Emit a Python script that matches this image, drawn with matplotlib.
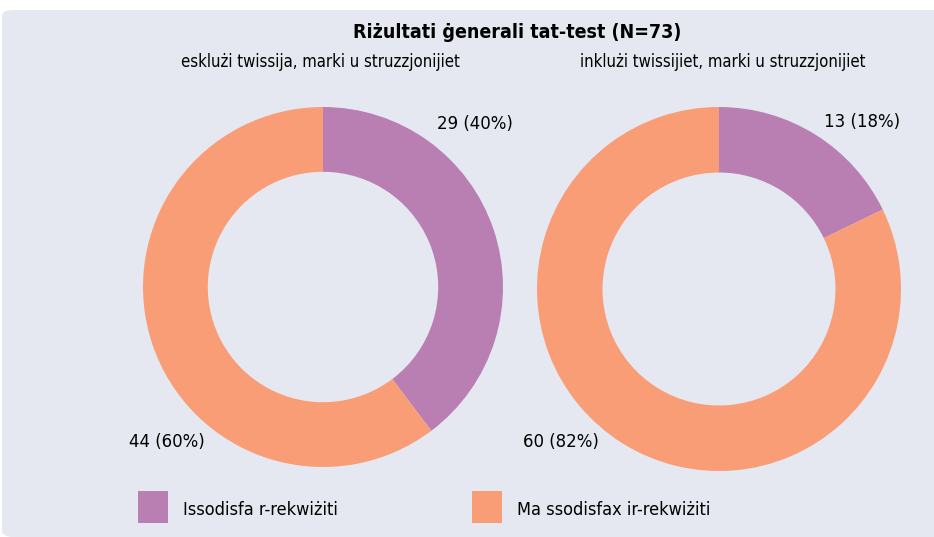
import matplotlib.pyplot as plt
from matplotlib.patches import FancyBboxPatch, Rectangle

title = 'Riżultati ġenerali tat-test (N=73)'
subtitles = ['esklużi twissija, marki u struzzjonijiet',
             'inklużi twissijiet, marki u struzzjonijiet']
categories = ['Issodisfa r-rekwiżiti', 'Ma ssodisfax ir-rekwiżiti']
values_left = [29, 44]
values_right = [13, 60]
colors = ['#B97FB3', '#F99D77']

W, H = 934, 537
fig = plt.figure(figsize=(W / 100, H / 100), dpi=100)
fig.patch.set_facecolor('white')

# fond du panneau
bg = FancyBboxPatch((2 / W, 0), 1.2, (H - 10) / H,
                    boxstyle='round,pad=0,rounding_size=0.012',
                    transform=fig.transFigure, facecolor='#E5E8F0',
                    edgecolor='none', zorder=-5)
fig.patches.append(bg)

txt = dict(family='DejaVu Sans', fontstretch='condensed')

fig.text(517 / W, 1 - 32 / H, title, ha='center', va='center',
         fontsize=14, fontweight='bold', **txt)
fig.text(320 / W, 1 - 62 / H, subtitles[0], ha='center', va='center',
         fontsize=12, **txt)
fig.text(723 / W, 1 - 62 / H, subtitles[1], ha='center', va='center',
         fontsize=12, **txt)


def donut(cx, cy, r, vals, lab_pos):
    ax = fig.add_axes([(cx - r) / W, 1 - (cy + r) / H, 2 * r / W, 2 * r / H])
    ax.pie(vals, colors=colors, startangle=90, counterclock=False,
           radius=1, wedgeprops=dict(width=0.36, edgecolor='none'))
    ax.set_xlim(-1, 1)
    ax.set_ylim(-1, 1)
    ax.set_aspect('equal')
    ax.axis('off')
    total = sum(vals)
    for v, (x, y) in zip(vals, lab_pos):
        fig.text(x / W, 1 - y / H, f'{v} ({round(v / total * 100)}%)',
                 ha='center', va='center', fontsize=12)


donut(323, 287, 180, values_left, [(475, 124), (167, 442)])
donut(719, 289, 182, values_right, [(862, 122), (561, 442)])

# legende
for i, (cat, col) in enumerate(zip(categories, colors)):
    x0 = [138, 472][i]
    fig.patches.append(Rectangle((x0 / W, 1 - 523 / H), 30 / W, 32 / H,
                                 transform=fig.transFigure, facecolor=col,
                                 edgecolor='none'))
    fig.text((x0 + 45) / W, 1 - 510 / H, cat, ha='left', va='center',
             fontsize=13, **txt)

fig.savefig('out.png', dpi=100)
